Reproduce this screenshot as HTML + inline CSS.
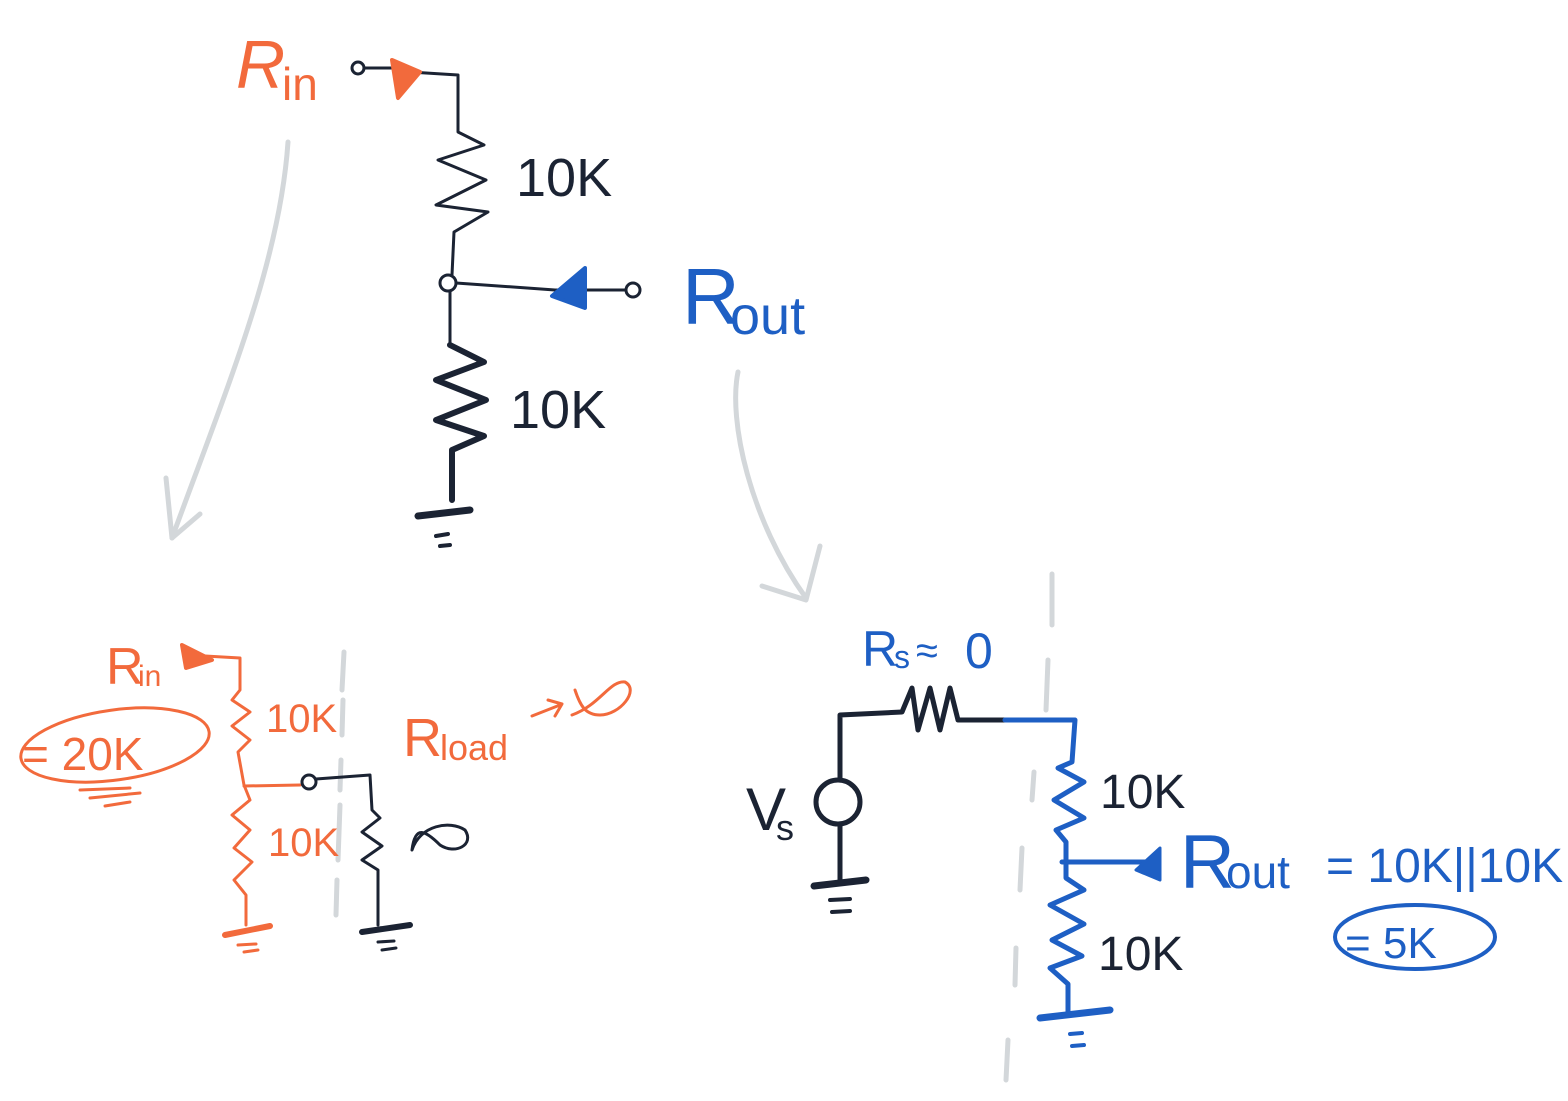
<!DOCTYPE html>
<html><head><meta charset="utf-8"><style>
html,body{margin:0;padding:0;background:#fff;}
svg{display:block}
text{font-family:"Liberation Sans",sans-serif;}
</style></head><body>
<svg width="1568" height="1101" viewBox="0 0 1568 1101" xmlns="http://www.w3.org/2000/svg" fill="none" stroke-linecap="round" stroke-linejoin="round">
<!-- gray arrows -->
<g stroke="#d3d7da" stroke-width="5">
<path d="M288 142 C280 260 230 380 172 538"/>
<path d="M172 538 L166 478 M172 538 L200 514"/>
<path d="M738 372 C728 420 750 520 806 598"/>
<path d="M762 586 L806 600 L820 546"/>
<path d="M344 652 L342 690 M343 700 L342 735 M341 760 L340 790 M340 805 L338 860 M337 880 L336 915"/>
<path d="M1052 574 L1052 625 M1048 660 L1046 710 M1034 772 L1032 800 M1022 848 L1020 890 M1016 948 L1015 985 M1008 1040 L1006 1080"/>
</g>
<!-- top circuit -->
<g stroke="#1b2333" stroke-width="3">
<path d="M410 72 L458 75 L458 132 L484 145 L438 160 L486 180 L436 205 L488 212 L454 232 L452 275"/>
<circle cx="448" cy="283" r="8"/>
<path d="M456 283 L555 290 L625 290"/>
<circle cx="633" cy="290" r="7"/>
<circle cx="358" cy="68" r="6"/>
<path d="M364 68 L392 68"/>
<path d="M450 292 L450 345"/>
<path d="M450 345 L484 362 L436 380 L486 400 L436 420 L484 436 L452 450 L452 500" stroke-width="6"/>
<path d="M418 516 L470 510" stroke-width="7"/>
<path d="M436 536 L448 534 M440 546 L450 545" stroke-width="4"/>
</g>
<path d="M392 60 L420 72 L398 98 Z" fill="#f26a3c" stroke="#f26a3c" stroke-width="4"/>
<path d="M585 268 L552 296 L585 308 Z" fill="#1e5fc4" stroke="#1e5fc4" stroke-width="4"/>
<text x="236" y="88" font-size="68" fill="#f26a3c" font-style="italic">R</text>
<text x="282" y="100" font-size="46" fill="#f26a3c">in</text>
<text x="516" y="196" font-size="54" fill="#1b2333">10K</text>
<text x="510" y="428" font-size="54" fill="#1b2333">10K</text>
<text x="682" y="324" font-size="80" fill="#1e5fc4">R</text>
<text x="730" y="334" font-size="54" fill="#1e5fc4">out</text>
<!-- bottom-left -->
<g stroke="#f26a3c" stroke-width="3">
<path d="M205 656 L240 658 L240 690 L232 700 L250 712 L232 726 L250 740 L238 752 L244 785 L250 800 L232 815 L250 830 L234 848 L252 862 L234 880 L246 895 L246 925"/>
<path d="M244 786 L300 785"/>
<path d="M225 935 L270 926" stroke-width="6"/>
<path d="M238 945 L256 944 M244 952 L258 950"/>
<ellipse cx="115" cy="745" rx="95" ry="35" transform="rotate(-8 115 745)"/>
<path d="M80 790 L130 788 M90 798 L140 793 M105 806 L130 802"/>
<path d="M532 716 L560 705 M548 700 L562 704 L555 716"/>
<path d="M572 715 C600 705 610 680 625 682 C640 690 620 715 600 715 C585 715 580 705 575 690"/>
</g>
<path d="M182 645 L212 660 L186 668 Z" fill="#f26a3c" stroke="#f26a3c" stroke-width="4"/>
<text x="106" y="684" font-size="52" fill="#f26a3c">R</text>
<text x="138" y="686" font-size="30" fill="#f26a3c">in</text>
<text x="22" y="770" font-size="46" fill="#f26a3c">= 20K</text>
<text x="266" y="732" font-size="40" fill="#f26a3c">10K</text>
<text x="268" y="856" font-size="40" fill="#f26a3c">10K</text>
<text x="403" y="756" font-size="54" fill="#f26a3c">R</text>
<text x="440" y="760" font-size="36" fill="#f26a3c">load</text>
<g stroke="#1b2333" stroke-width="3">
<circle cx="309" cy="782" r="7"/>
<path d="M316 779 L370 775 L372 810 L380 818 L362 832 L382 846 L362 860 L378 870 L378 925"/>
<path d="M362 932 L410 925" stroke-width="6"/>
<path d="M378 942 L394 941 M382 950 L396 948"/>
<path d="M412 850 C420 825 450 820 465 830 C475 845 455 855 440 845 C425 830 415 825 412 850 Z"/>
</g>
<!-- bottom-right -->
<g stroke="#1b2333" stroke-width="5">
<path d="M840 778 L840 715 L902 712 L912 688 L918 730 L930 688 L940 730 L950 688 L958 720 L970 720 L1005 720"/>
<circle cx="838" cy="802" r="22"/>
<path d="M840 824 L840 882"/>
<path d="M814 886 L866 880" stroke-width="7"/>
<path d="M830 900 L850 899 M832 912 L850 911" stroke-width="4"/>
</g>
<g stroke="#1e5fc4" stroke-width="5">
<path d="M1005 720 L1075 720 L1072 762 L1058 768 L1084 782 L1054 800 L1084 818 L1056 830 L1066 842 L1066 878 L1084 890 L1050 905 L1084 924 L1052 940 L1082 956 L1050 968 L1068 984 L1068 1012"/>
<path d="M1062 862 L1148 862"/>
<path d="M1040 1018 L1110 1010" stroke-width="7"/>
<path d="M1070 1034 L1082 1033 M1072 1046 L1084 1045" stroke-width="4"/>
<ellipse cx="1415" cy="937" rx="80" ry="32" stroke-width="4"/>
</g>
<path d="M1160 848 L1136 870 L1160 880 Z" fill="#1e5fc4" stroke="#1e5fc4" stroke-width="3"/>
<text x="862" y="666" font-size="50" fill="#1e5fc4">R</text>
<text x="894" y="668" font-size="32" fill="#1e5fc4">s</text>
<text x="916" y="664" font-size="40" fill="#1e5fc4">≈</text>
<text x="965" y="668" font-size="50" fill="#1e5fc4">0</text>
<text x="746" y="830" font-size="60" fill="#1b2333">V</text>
<text x="776" y="840" font-size="36" fill="#1b2333">s</text>
<text x="1100" y="808" font-size="48" fill="#1b2333">10K</text>
<text x="1098" y="970" font-size="48" fill="#1b2333">10K</text>
<text x="1180" y="888" font-size="76" fill="#1e5fc4">R</text>
<text x="1226" y="888" font-size="46" fill="#1e5fc4">out</text>
<text x="1326" y="882" font-size="48" fill="#1e5fc4">= 10K||10K</text>
<text x="1345" y="958" font-size="44" fill="#1e5fc4">= 5K</text>
</svg>
</body></html>
